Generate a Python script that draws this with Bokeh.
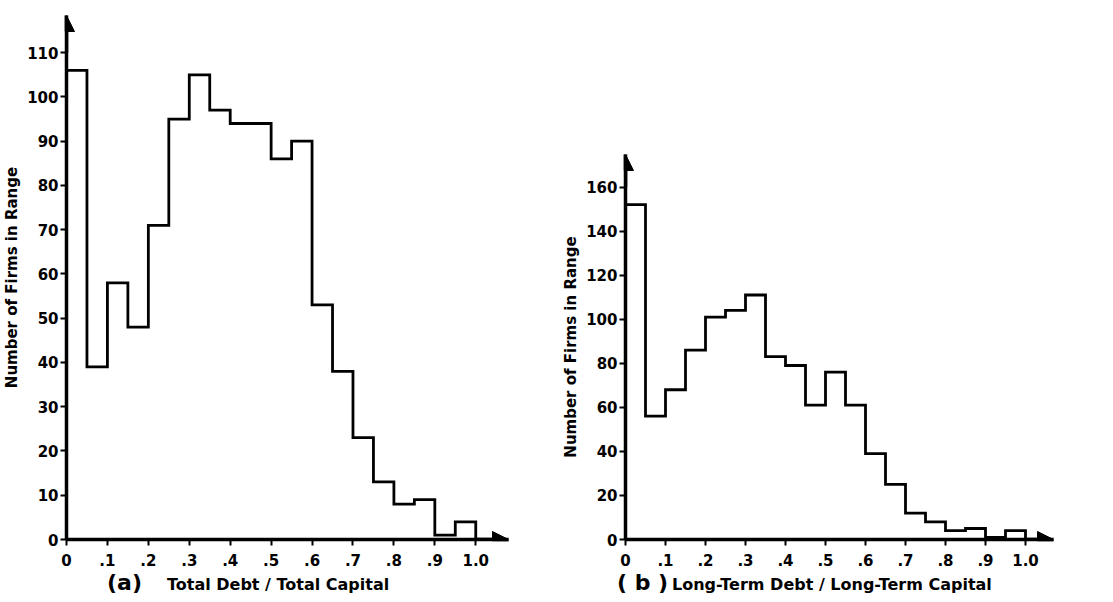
from bokeh.plotting import figure
from bokeh.layouts import row, column
from bokeh.models import Arrow, NormalHead, FixedTicker, Div
from bokeh.embed import file_html
from bokeh.resources import INLINE

# ---- data ----
bin_left = [0.00, 0.05, 0.10, 0.15, 0.20, 0.25, 0.30, 0.35, 0.40, 0.45,
            0.50, 0.55, 0.60, 0.65, 0.70, 0.75, 0.80, 0.85, 0.90, 0.95]
bin_width = 0.05
counts_a = [106, 39, 58, 48, 71, 95, 105, 97, 94, 94, 86, 90, 53, 38, 23, 13, 8, 9, 1, 4]
counts_b = [152, 56, 68, 86, 101, 104, 111, 83, 79, 61, 76, 61, 39, 25, 12, 8, 4, 5, 1, 4]

x_ticks = [0, 0.1, 0.2, 0.3, 0.4, 0.5, 0.6, 0.7, 0.8, 0.9, 1.0]
x_tick_labels = ["0", ".1", ".2", ".3", ".4", ".5", ".6", ".7", ".8", ".9", "1.0"]
y_ticks_a = [0, 10, 20, 30, 40, 50, 60, 70, 80, 90, 100, 110]
y_ticks_b = [0, 20, 40, 60, 80, 100, 120, 140, 160]

y_title = "Number of Firms in Range"
tag_a, title_a = "(a)", "Total Debt / Total Capital"
tag_b, title_b = "( b )", "Long-Term Debt / Long-Term Capital"

FONT = "DejaVu Sans"


def outline(counts):
    xs, ys = [bin_left[0]], [0]
    for l, c in zip(bin_left, counts):
        xs += [l, l + bin_width]
        ys += [c, c]
    xs.append(bin_left[-1] + bin_width)
    ys.append(0)
    return xs, ys


def make(counts, y_ticks, x_end, y_end, w, h, mbl, mbt, mbr, mbb):
    p = figure(width=w, height=h, x_range=(0, x_end), y_range=(0, y_end),
               min_border_left=mbl, min_border_top=mbt, min_border_right=mbr,
               min_border_bottom=mbb, output_backend="svg", toolbar_location=None,
               frame_align=False)
    p.outline_line_color = None
    p.xgrid.visible = False
    p.ygrid.visible = False
    p.background_fill_color = "white"
    p.border_fill_color = "white"

    xs, ys = outline(counts)
    p.line(xs, ys, line_color="black", line_width=2.8, line_join="miter")

    for ax in (p.xaxis[0], p.yaxis[0]):
        ax.axis_line_width = 3.5
        ax.axis_line_color = "black"
        ax.major_tick_line_width = 2
        ax.major_tick_line_color = "black"
        ax.major_tick_in = 0
        ax.major_tick_out = 6
        ax.minor_tick_line_color = None
        ax.major_label_text_font = FONT
        ax.major_label_text_font_style = "bold"
        ax.major_label_text_font_size = "15px"
        ax.major_label_text_color = "black"

    p.xaxis.ticker = FixedTicker(ticks=x_ticks)
    p.xaxis.major_label_overrides = dict(zip(x_ticks, x_tick_labels))
    p.xaxis.major_label_standoff = 8
    p.yaxis.ticker = FixedTicker(ticks=y_ticks)
    p.yaxis.major_label_standoff = 2
    p.yaxis.axis_label = y_title
    p.yaxis.axis_label_text_font = FONT
    p.yaxis.axis_label_text_font_style = "bold"
    p.yaxis.axis_label_text_font_size = "15px"
    p.yaxis.axis_label_text_color = "black"
    p.yaxis.axis_label_standoff = 3

    p.add_layout(Arrow(end=NormalHead(size=16, fill_color="black", line_color="black"),
                       x_start=1.0, y_start=0, x_end=x_end, y_end=0,
                       line_width=3.5, line_color="black"))
    p.add_layout(Arrow(end=NormalHead(size=16, fill_color="black", line_color="black"),
                       x_start=0, y_start=y_ticks[-1], x_end=0, y_end=y_end,
                       line_width=3.5, line_color="black"))
    return p


def caption(tag, title, width, tag_left, title_left, title_size):
    html = (
        f'<div style="position:relative;width:{width}px;height:22px;'
        f'font-family:\'{FONT}\';font-weight:bold;color:black;white-space:nowrap;">'
        f'<span style="position:absolute;left:{tag_left}px;bottom:0;font-size:22px;line-height:22px;">{tag}</span>'
        f'<span style="position:absolute;left:{title_left}px;bottom:1px;font-size:{title_size}px;line-height:{title_size}px;">{title}</span>'
        f'</div>'
    )
    return Div(text=html, width=width, height=22, margin=0)


# width = left border + frame + right border; height = top + frame + bottom
pa = make(counts_a, y_ticks_a, 1.08, 118.4, 64 + 444 + 47, 15 + 524 + 33, 64, 15, 47, 33)
pb = make(counts_b, y_ticks_b, 1.07, 174.8, 70 + 428 + 47, 154 + 385 + 33, 70, 154, 47, 33)

cap_a = caption(tag_a, title_a, 555, 107, 167, 16)
cap_b = caption(tag_b, title_b, 545, 62, 117, 16)

layout = column(row(pa, pb), row(cap_a, cap_b))
open("out.html", "w").write(file_html(layout, INLINE))
